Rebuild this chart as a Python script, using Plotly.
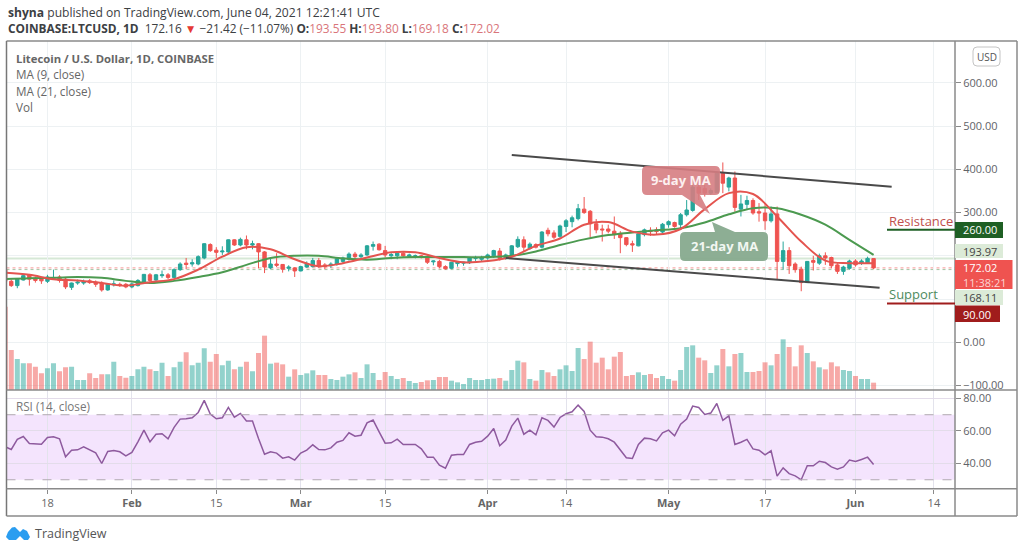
import pandas as pd
import plotly.graph_objects as go

W, H = 1024, 551

dates = pd.date_range("2021-01-11", "2021-06-04", freq="D")

open_prices = [
    168,141,131,144,156,148,148,141,148,151,
    146,127,137,137,142,139,137,121,133,134,
    134,128,131,140,156,144,154,156,150,168,
    183,181,181,195,226,213,209,209,237,225,
    237,225,228,209,172,181,180,171,172,165,
    174,175,189,179,177,180,187,192,204,198,
    202,222,227,212,200,200,206,199,198,200,
    197,186,187,175,171,182,183,184,194,192,
    195,200,211,194,202,221,237,217,226,220,
    259,253,245,268,279,286,308,303,274,262,
    262,257,252,242,228,223,249,259,260,255,
    272,277,272,295,305,359,356,345,346,391,
    359,380,308,319,328,302,299,281,297,187,
    212,181,169,138,189,183,200,196,179,164,
    171,188,183,183,193.55]
high_prices = [
    172,145,148,156,158,152,151,156,168,155,
    151,138,145,145,146,143,141,137,143,138,
    137,138,146,158,160,158,166,160,171,185,
    195,192,201,229,229,220,222,238,238,242,
    247,235,229,211,195,206,181,178,174,177,
    187,195,195,183,185,197,198,208,209,206,
    225,233,229,223,208,209,209,205,203,202,
    200,189,191,178,186,186,186,197,200,200,
    205,214,218,205,225,245,245,231,229,257,
    265,259,272,285,293,320,336,306,285,272,
    272,291,257,243,235,252,263,266,266,276,
    282,279,299,329,364,364,364,356,395,416,
    383,395,341,339,333,322,322,314,314,233,
    220,185,175,188,200,205,208,198,183,177,
    191,192,192,198,193.80]
low_prices = [
    80,128,125,143,131,138,135,137,146,138,
    123,121,133,133,135,128,117,119,129,128,
    125,125,129,138,140,141,149,146,148,165,
    169,175,178,192,209,195,202,206,223,222,
    215,215,171,160,169,174,161,164,151,164,
    172,173,172,169,172,177,181,189,192,195,
    200,212,212,196,192,192,198,195,194,194,
    181,178,171,168,169,175,177,181,188,186,
    191,195,189,191,198,218,209,214,217,217,
    245,239,242,255,266,282,297,243,252,233,
    252,239,206,222,209,222,245,246,250,252,
    265,265,260,291,302,329,337,341,345,345,
    349,302,291,306,295,279,260,277,146,168,
    158,161,118,137,166,179,179,171,158,156,
    168,175,179,181,169.18]
close_prices = [
    141,131,146,154,146,143,142,151,149,143,
    128,137,139,140,138,134,121,135,135,132,
    128,135,143,157,143,156,156,150,168,181,
    180,184,198,228,212,208,211,237,225,238,
    225,228,209,174,181,178,169,174,165,175,
    181,189,175,175,181,193,195,204,198,202,
    223,226,214,202,203,206,200,202,200,196,
    185,188,175,170,185,185,185,195,196,195,
    202,212,194,202,223,238,220,227,220,255,
    251,243,269,281,288,309,300,274,260,260,
    257,249,242,226,225,251,260,256,256,273,
    279,268,295,306,359,345,345,351,391,368,
    380,312,320,328,299,299,281,297,187,212,
    177,168,138,187,185,200,195,177,164,174,
    188,179,188,194,172.02]
volume = [
    250,120,93,80,80,70,50,65,80,56,
    68,70,30,30,50,36,47,47,85,42,
    37,42,62,70,62,57,82,42,68,85,
    113,74,82,125,85,108,74,88,62,70,
    85,56,111,163,79,82,77,40,62,45,
    50,59,45,45,33,30,40,47,53,36,
    77,51,30,54,42,33,36,27,21,24,
    29,30,39,39,28,23,18,36,30,30,
    33,34,36,28,60,88,83,33,28,60,
    53,42,62,74,57,126,93,145,82,97,
    62,100,114,42,45,53,45,48,36,42,
    33,28,60,129,134,97,89,51,74,123,
    71,108,111,54,54,57,83,74,108,152,
    129,71,134,111,86,68,62,83,71,60,
    57,42,33,33,22]
rsi = [
    50.3,48.6,54.8,56.6,52.3,52.1,51.9,56.0,56.4,55.2,
    44.1,48.2,48.4,50.3,48.2,46.6,40.0,47.4,48.0,47.2,
    44.7,46.8,53.3,60.5,53.3,58.0,58.3,55.2,62.2,67.3,
    67.5,68.1,71.4,78.8,70.4,67.5,68.1,74.5,68.5,70.8,
    66.1,66.1,55.4,45.7,47.2,46.4,43.3,44.1,42.1,46.4,
    48.2,51.5,48.6,48.4,49.6,53.1,54.2,58.9,56.8,57.4,
    65.0,66.7,59.5,52.5,52.7,55.0,51.7,51.7,51.7,49.0,
    43.9,43.9,39.0,37.1,45.1,45.5,45.5,51.7,53.1,53.7,
    56.8,61.5,50.9,54.4,63.0,67.9,58.0,60.5,57.6,68.1,
    66.5,62.4,68.3,70.6,71.8,75.9,72.0,60.5,56.4,56.2,
    55.2,53.1,48.6,43.5,43.1,51.7,55.6,55.2,53.9,58.9,
    60.5,57.0,64.2,67.3,75.3,74.5,70.2,71.0,76.9,66.5,
    69.3,51.7,53.1,54.8,49.0,48.2,45.3,47.8,32.2,37.3,
    33.8,32.4,30.0,38.6,38.6,41.4,40.6,37.9,36.5,37.9,
    42.1,41.2,42.5,43.9,39.4]

# moving averages read every fourth day
ma_dates = dates[::4]
ma9 = [161,156,146,143,137,131,139,146,168,198,220,215,192,176,183,196,208,208,195,185,
       188,198,223,240,272,278,256,249,262,308,345,343,291,233,189,183,183]
ma21 = [146,148,149,151,149,142,137,142,151,162,179,195,200,200,194,191,195,197,197,197,
        197,200,210,225,238,248,254,259,264,277,296,310,310,295,272,237,202]

date_ticks = ["2021-01-18","2021-02-01","2021-02-15","2021-03-01","2021-03-15","2021-04-01",
              "2021-04-14","2021-05-01","2021-05-17","2021-06-01","2021-06-14"]
date_labels = ["18","<b>Feb</b>","15","<b>Mar</b>","15","<b>Apr</b>","14","<b>May</b>","17","<b>Jun</b>","14"]
price_ticks = [-100,0,100,200,300,400,500,600]
price_labels = ["","0.00","","","300.00","400.00","500.00","600.00"]
rsi_ticks = [40,60,80]
rsi_labels = ["40.00","60.00","80.00"]

TEAL = "#26a69a"
RED = "#ef5350"
GRAY = "#5f6368"
FONT = "Open Sans"


def px(x):
    return x / W


def py(y):
    return 1 - y / H


def box_path(x0, y0, x1, y1, r=5, tail=None):
    p = f"M {px(x0+r)} {py(y0)} L {px(x1-r)} {py(y0)} Q {px(x1)} {py(y0)} {px(x1)} {py(y0+r)} "
    p += f"L {px(x1)} {py(y1-r)} Q {px(x1)} {py(y1)} {px(x1-r)} {py(y1)} L {px(x0+r)} {py(y1)} "
    p += f"Q {px(x0)} {py(y1)} {px(x0)} {py(y1-r)} L {px(x0)} {py(y0+r)} Q {px(x0)} {py(y0)} {px(x0+r)} {py(y0)} Z"
    if tail:
        p += " M " + " L ".join(f"{px(a)} {py(b)}" for a, b in tail) + " Z"
    return p


def label(x, y, text, size=12, color=GRAY, anchor="left"):
    return dict(x=px(x), y=py(y), xref="paper", yref="paper", text=text, showarrow=False,
                xanchor=anchor, yanchor="middle", align="left",
                font=dict(family=FONT, size=size, color=color))


def rect(x0, y0, x1, y1, fill, line_color=None):
    return dict(type="rect", xref="paper", yref="paper", x0=px(x0), x1=px(x1), y0=py(y0), y1=py(y1),
                fillcolor=fill, line=dict(width=0 if line_color is None else 1, color=line_color))


def seg(x0, y0, x1, y1, color, width=1.5, dash="solid"):
    return dict(type="line", xref="paper", yref="paper", x0=px(x0), x1=px(x1), y0=py(y0), y1=py(y1),
                line=dict(color=color, width=width, dash=dash))


def hline(value, color, width, dash):
    return dict(type="line", xref="x domain", yref="y", x0=0, x1=1, y0=value, y1=value,
                line=dict(color=color, width=width, dash=dash), layer="below")


up = [c >= o for o, c in zip(open_prices, close_prices)]
vol_colors = ["rgba(38,166,154,0.5)" if u else "rgba(239,83,80,0.5)" for u in up]

fig = go.Figure()

fig.add_trace(go.Bar(x=dates, y=volume, marker=dict(color=vol_colors, line_width=0), width=0.83 * 86400000,
                     yaxis="y2", xaxis="x", hoverinfo="skip"))
fig.add_trace(go.Scatter(x=ma_dates, y=ma21, mode="lines", line=dict(color="#4c9a50", width=2, shape="spline"),
                         yaxis="y", xaxis="x"))
fig.add_trace(go.Candlestick(x=dates, open=open_prices, high=high_prices, low=low_prices, close=close_prices,
                             increasing=dict(line=dict(color=TEAL, width=1), fillcolor=TEAL),
                             decreasing=dict(line=dict(color=RED, width=1), fillcolor=RED),
                             whiskerwidth=0, yaxis="y", xaxis="x"))
fig.add_trace(go.Scatter(x=ma_dates, y=ma9, mode="lines", line=dict(color="#e4544f", width=2, shape="spline"),
                         yaxis="y", xaxis="x"))
fig.add_trace(go.Scatter(x=dates, y=rsi, mode="lines", line=dict(color="#8e5a9e", width=1.5),
                         yaxis="y3", xaxis="x2"))

x_range = ["2021-01-11 05:00", "2021-06-17 12:00"]
grid = "#edf1f3"

shapes = [
    # RSI band
    dict(type="rect", xref="x2 domain", yref="y3", x0=0, x1=1, y0=30, y1=70, fillcolor="#f4e4fd",
         line=dict(width=0), layer="below"),
    dict(type="line", xref="x2 domain", yref="y3", x0=0, x1=1, y0=70, y1=70,
         line=dict(color="#b0a8b0", width=1, dash="dash")),
    dict(type="line", xref="x2 domain", yref="y3", x0=0, x1=1, y0=30, y1=30,
         line=dict(color="#b0a8b0", width=1, dash="dash")),
    # price lines
    hline(193.97, "rgba(120,180,120,0.3)", 2, "solid"),
    hline(168.11, "rgba(90,150,90,0.55)", 1, "dot"),
    hline(172.02, "rgba(239,83,80,0.6)", 1, "dot"),
    # trend lines
    dict(type="line", xref="x", yref="y", x0="2021-04-05", x1="2021-06-07", y0=433.5, y1=359.5,
         line=dict(color="#4a4a4a", width=2)),
    dict(type="line", xref="x", yref="y", x0="2021-04-04", x1="2021-06-05", y0=195, y1=126,
         line=dict(color="#4a4a4a", width=2)),
    # callouts
    dict(type="path", xref="paper", yref="paper", fillcolor="rgba(214,125,130,0.9)", line=dict(width=0),
         path=box_path(642, 166, 720, 195, tail=[(682, 195), (710, 214), (700, 195)])),
    dict(type="path", xref="paper", yref="paper", fillcolor="rgba(135,170,142,0.95)", line=dict(width=0),
         path=box_path(680, 232, 768, 261, tail=[(712, 222), (735, 232), (715, 232)])),
    # frame
    seg(6.5, 41, 1017, 41, "#8a8a8a"),
    seg(6.5, 41, 6.5, 516, "#777777"),
    seg(1017, 41, 1017, 516, "#8a8a8a"),
    seg(6.5, 516, 1017, 516, "#8a8a8a"),
    seg(6.5, 390, 1017, 390, "#8a8a8a"),
    seg(6.5, 488.7, 1017, 488.7, "#8a8a8a"),
    seg(955, 41, 955, 516, "#8a8a8a"),
    # right side labels
    rect(955, 222, 1003, 238, "#1e5f24"),
    rect(955, 244, 1003, 258, "#dcebd8"),
    rect(955, 260, 1012.5, 289, "#ef5350"),
    rect(955, 290, 1003, 305, "#dcebd8"),
    rect(955, 305.5, 1000, 322, "#a01c1c"),
    seg(887, 229.7, 955, 229.7, "#1e5f24", 2),
    seg(887, 303.6, 955, 303.6, "#a01c1c", 2),
    # usd button
    dict(type="path", xref="paper", yref="paper", fillcolor="white", line=dict(color="#c4c4c4", width=1),
         path=box_path(973, 47, 1000, 66, r=4)),
    # tradingview logo
    dict(type="path", xref="paper", yref="paper", fillcolor="#2a9df0", line=dict(width=0),
         path="M " + " L ".join(f"{px(a)} {py(b)}" for a, b in [
             (6, 537), (8, 532), (12, 527.5), (15, 527), (20, 532), (23, 529), (27, 531), (30, 537),
             (28, 540), (24, 540), (20, 536), (16, 540), (9, 540)]) + " Z"),
]

annotations = [
    label(6, 12, "<b>shyna</b> published on TradingView.com, June 04, 2021 12:21:41 UTC", 12.1, "#3c4043"),
    label(6, 28, "<b>COINBASE:LTCUSD, 1D</b>  172.16 <span style='color:#e53935'>\u25bc</span> \u221221.42 (\u221211.07%) "
                 "<b>O:</b><span style='color:#d9757a'>193.55</span> <b>H:</b><span style='color:#d9757a'>193.80</span> "
                 "<b>L:</b><span style='color:#d9757a'>169.18</span> <b>C:</b><span style='color:#d9757a'>172.02</span>",
          11.85, "#3c4043"),
    label(14, 58, "<b>Litecoin / U.S. Dollar, 1D, COINBASE</b>", 11.3, "#666666"),
    label(14, 74.5, "MA (9, close)", 11.7, "#666666"),
    label(14, 90.5, "MA (21, close)", 11.7, "#666666"),
    label(14, 107, "Vol", 11.7, "#666666"),
    label(14, 406, "RSI (14, close)", 11.7, "#777777"),
    label(681, 180, "<b>9-day MA</b>", 13, "#fdf0f0", "center"),
    label(724, 246, "<b>21-day MA</b>", 13, "#f2f7f2", "center"),
    label(887, 221.5, "Resistance", 13, "#c0504d"),
    label(887, 293.5, "Support", 13, "#4d8a5e"),
    label(961, 230, "260.00", 11, "white"),
    label(961, 251, "193.97", 11, "#444444"),
    label(961, 267.5, "172.02", 11, "white"),
    label(961, 282.5, "11:38:21", 11, "#fbd5d4"),
    label(961, 297, "168.11", 11, "#444444"),
    label(961, 314, "90.00", 11, "white"),
    label(961, 384, "\u2212100.00", 11, GRAY),
    label(986.5, 57, "USD", 10, "#555555", "center"),
    label(33, 533.5, "TradingView", 12.5, "#555555"),
]

fig.update_layout(
    width=W, height=H, margin=dict(l=0, r=0, t=0, b=0),
    paper_bgcolor="white", plot_bgcolor="white", showlegend=False, barmode="overlay", boxgap=0.2,
    font=dict(family=FONT, size=12, color=GRAY),
    xaxis=dict(domain=[px(6.5), px(955)], range=x_range, type="date", anchor="y",
               tickmode="array", tickvals=date_ticks, ticktext=[""] * len(date_ticks),
               showgrid=True, gridcolor=grid, ticks="", rangeslider=dict(visible=False), zeroline=False),
    xaxis2=dict(domain=[px(6.5), px(955)], range=x_range, type="date", anchor="y3",
                tickmode="array", tickvals=date_ticks, ticktext=date_labels,
                showgrid=True, gridcolor="#e3e3ec", ticks="outside", ticklen=4, tickcolor="#8a8a8a",
                tickfont=dict(size=11, color="#666666"), zeroline=False),
    yaxis=dict(domain=[py(390), py(41)], range=[-110.5, 697], side="right", anchor="x",
               tickmode="array", tickvals=price_ticks, ticktext=price_labels,
               showgrid=True, gridcolor=grid, ticks="outside", ticklen=5, tickcolor="#8a8a8a",
               tickfont=dict(size=11, color=GRAY), zeroline=False),
    yaxis2=dict(domain=[py(390), py(41)], range=[0, 1047], overlaying="y", visible=False),
    yaxis3=dict(domain=[py(488.7), py(390)], range=[24.5, 85.2], side="right", anchor="x2",
                tickmode="array", tickvals=rsi_ticks, ticktext=rsi_labels,
                showgrid=True, gridcolor="#e3dcea", ticks="outside", ticklen=5, tickcolor="#8a8a8a",
                tickfont=dict(size=11, color=GRAY), zeroline=False),
    shapes=shapes, annotations=annotations,
)

fig.write_html("out.html", config=dict(displayModeBar=False),
               post_script="document.body.style.margin='0';document.body.style.height='551px';document.body.style.overflow='hidden';document.documentElement.style.overflow='hidden';")
